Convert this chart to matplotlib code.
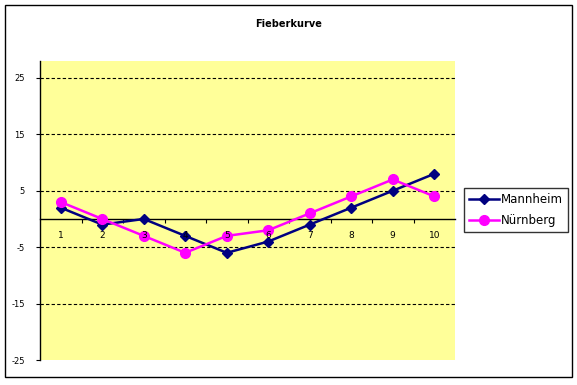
import matplotlib
matplotlib.use("Agg")
import matplotlib.pyplot as plt
from matplotlib.patches import Rectangle

categories = [1, 2, 3, 4, 5, 6, 7, 8, 9, 10]
mannheim = [2, -1, 0, -3, -6, -4, -1, 2, 5, 8]
nuernberg = [3, 0, -3, -6, -3, -2, 1, 4, 7, 4]
yticks = [-25, -15, -5, 5, 15, 25]

plt.rcParams['font.family'] = ['DejaVu Sans']

fig = plt.figure(figsize=(5.77, 3.85), dpi=100)
fig.patch.set_facecolor('white')
fig.patches.append(Rectangle((5/577, 1-377/385), 567/577, 372/385,
                             transform=fig.transFigure, fill=False,
                             edgecolor='black', linewidth=1.0))

ax = fig.add_axes([40/577, 1-360/385, 415/577, 299/385])
ax.set_facecolor('#FFFF99')
ax.set_xlim(0.5, 10.5)
ax.set_ylim(-25, 28)

for yv in yticks[1:]:
    ax.axhline(yv, color='black', linestyle=(0, (3, 2)), linewidth=0.8, zorder=1)

ax.plot(categories, mannheim, color='#000080', marker='D', markersize=5.5,
        linewidth=1.8, label='Mannheim', zorder=3)
ax.plot(categories, nuernberg, color='#FF00FF', marker='o', markersize=7,
        linewidth=1.8, label='Nürnberg', zorder=3)

for s in ['top', 'right']:
    ax.spines[s].set_visible(False)
ax.spines['bottom'].set_position(('data', 0))
ax.spines['bottom'].set_linewidth(1.0)
ax.spines['left'].set_linewidth(1.0)

ax.set_yticks(yticks)
ax.set_yticklabels([str(v) for v in yticks], fontsize=6)
ax.tick_params(axis='y', direction='out', length=3, pad=8)

ax.set_xticks([c + 0.5 for c in categories[:-1]])
ax.set_xticklabels([])
ax.tick_params(axis='x', direction='out', length=3)
for c in categories:
    ax.text(c, -3.0, str(c), ha='center', va='center', fontsize=6.5)

fig.text(0.5, 1-24/385, 'Fieberkurve', ha='center', va='center',
         fontsize=7, fontweight='bold')

leg = fig.legend(loc='center', bbox_to_anchor=(516/577, 1-210/385),
                 fontsize=8.5, frameon=True, fancybox=False,
                 edgecolor='black', borderpad=0.45, handlelength=2.5,
                 handletextpad=0.15, labelspacing=0.7)
leg.get_frame().set_linewidth(1.0)

fig.savefig('out.png', dpi=100)
